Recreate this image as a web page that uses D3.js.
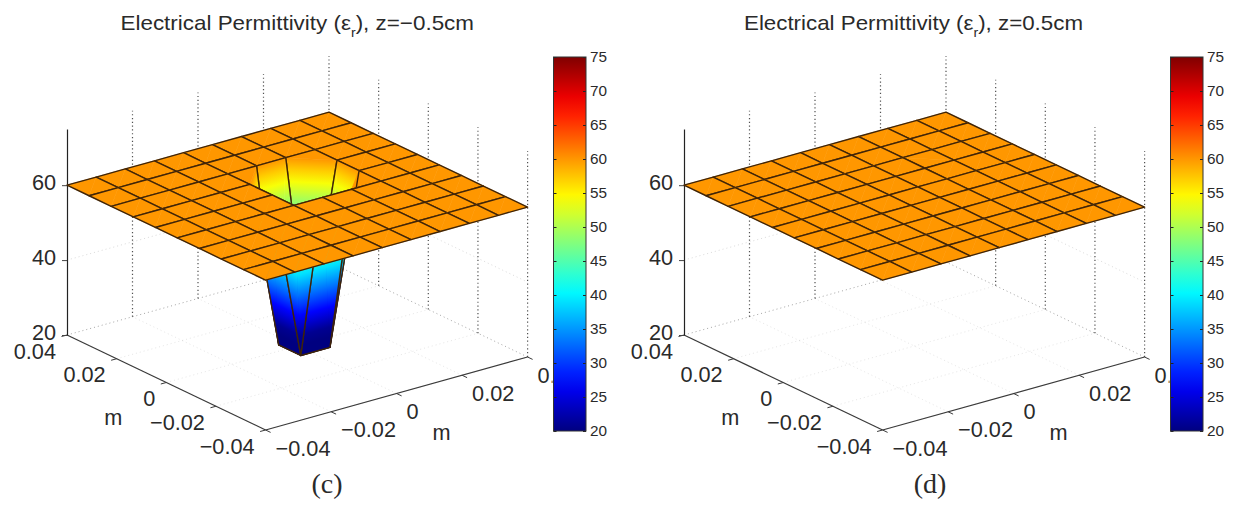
<!DOCTYPE html>
<html><head><meta charset="utf-8">
<style>html,body{margin:0;padding:0;background:#fff}svg{display:block}text{font-family:"Liberation Sans",Arial,sans-serif;fill:#2a2a2a}</style>
<script src="https://cdn.jsdelivr.net/npm/d3@7"></script>
</head><body><svg id="c" width="1233" height="506"></svg>
<script>
// ---- data ----
const gridMetres = [-0.04,-0.0311,-0.0222,-0.0133,-0.0044,0.0044,0.0133,0.0222,0.0311,0.04];
// permittivity at each grid node, rows = y index, columns = x index
const surfaceC = [
 [60,60,60,60,60,60,60,60,60,60],
 [60,60,60,60,60,60,60,60,60,60],
 [60,60,60,60,60,60,60,60,60,60],
 [60,60,60,60,60,60,60,60,60,60],
 [60,60,60,60,60,60,60,60,60,60],
 [60,60,60,60,60,15,15,60,60,60],
 [60,60,60,60,60,15,15,60,60,60],
 [60,60,60,60,60,60,60,60,60,60],
 [60,60,60,60,60,60,60,60,60,60],
 [60,60,60,60,60,60,60,60,60,60]];
const surfaceD = [
 [60,60,60,60,60,60,60,60,60,60],
 [60,60,60,60,60,60,60,60,60,60],
 [60,60,60,60,60,60,60,60,60,60],
 [60,60,60,60,60,60,60,60,60,60],
 [60,60,60,60,60,60,60,60,60,60],
 [60,60,60,60,60,60,60,60,60,60],
 [60,60,60,60,60,60,60,60,60,60],
 [60,60,60,60,60,60,60,60,60,60],
 [60,60,60,60,60,60,60,60,60,60],
 [60,60,60,60,60,60,60,60,60,60]];
const horizTicks = [-0.04,-0.02,0,0.02,0.04];
const horizLabels = ["\u22120.04","\u22120.02","0","0.02","0.04"];
const zTicks = [20,40,60];
const colorTicks = [20,25,30,35,40,45,50,55,60,65,70,75];
const titles = ["z=\u22120.5cm","z=0.5cm"];
const captions = ["(c)","(d)"];
const antiDiagonalCells = [[6,6]]; // [i,j] cells split along the other diagonal

// ---- scales ----
const uScale = d3.scaleLinear().domain([-0.04,0.04]).range([0,1]);
const zPx = d3.scaleLinear().domain([20,75]).range([0,-206]);
const cbY = d3.scaleLinear().domain([20,75]).range([431,57]);
const clamp=v=>Math.max(0,Math.min(1,v));
const tScale = d3.scaleLinear().domain([20,75]).range([0,1]).clamp(true);
function jet(z){const t=tScale(z);
  return d3.rgb(255*clamp(1.5-Math.abs(4*t-3)),255*clamp(1.5-Math.abs(4*t-2)),255*clamp(1.5-Math.abs(4*t-1))).formatHex();}

const svg=d3.select("#c"), defs=svg.append("defs");
let gid=0;
function gradStops(g,z0,z1){const n=Math.max(2,Math.ceil(Math.abs(z1-z0)/3)+1);
  d3.range(n).forEach(k=>{const f=k/(n-1);g.append("stop").attr("offset",f).attr("stop-color",jet(z0+(z1-z0)*f));});}

function panel(ox,Z,titleTail,titleX,titleW,caption,capX){
  const B=[265.6+ox,430],U=[262,-73],V=[-198.6,-95];
  const P=(x,y,z)=>{const u=uScale(x),v=uScale(y);return [B[0]+u*U[0]+v*V[0],B[1]+u*U[1]+v*V[1]+zPx(z)];};
  const g=svg.append("g");
  const xs=gridMetres, line=(a,b)=>({x1:a[0],y1:a[1],x2:b[0],y2:b[1]});
  const seg=(a,b,col,w,dash,op)=>{const l=line(a,b);g.append("line").attr("x1",l.x1).attr("y1",l.y1).attr("x2",l.x2).attr("y2",l.y2)
     .attr("stroke",col).attr("stroke-width",w).attr("stroke-dasharray",dash||null).attr("opacity",op==null?1:op);};
  const lo=-0.04,hi=0.04;
  const FS=21.7;
  // floor grid (faint)
  horizTicks.forEach(t=>{
    seg(P(t,lo,20),P(t,hi,20),"#888",1,"1 3",t===hi?.75:.2);
    seg(P(lo,t,20),P(hi,t,20),"#888",1,"1 3",t===hi?.75:.2);
  });
  // wall grid
  [40,60].forEach(z=>{
    seg(P(lo,hi,z),P(hi,hi,z),"#999",1,"1 3",.35);
    seg(P(hi,hi,z),P(hi,lo,z),"#999",1,"1 3",.35);
  });
  horizTicks.forEach(t=>{
    if(t>lo) seg(P(t,hi,20),P(t,hi,75),"#333",1.2,"1.2 2.6",.85);
    if(t<hi) seg(P(hi,t,20),P(hi,t,75),"#333",1.2,"1.2 2.6",.85);
  });
  // front axes
  seg(P(lo,lo,20),P(hi,lo,20),"#3a3a3a",1.2);
  seg(P(lo,lo,20),P(lo,hi,20),"#3a3a3a",1.2);
  horizTicks.forEach(t=>{
    const a=P(t,lo,20),b=P(lo,t,20);
    seg(a,[a[0]+5,a[1]+2.4],"#3a3a3a",1);
    seg(b,[b[0]-5.5,b[1]+1.5],"#3a3a3a",1);
  });
  // z axis via d3 axis
  const zAxisScale=d3.scaleLinear().domain([20,75]).range([P(lo,hi,20)[1],P(lo,hi,75)[1]]);
  const zg=g.append("g").attr("transform",`translate(${P(lo,hi,20)[0]},0)`)
    .call(d3.axisLeft(zAxisScale).tickValues(zTicks).tickSize(5).tickPadding(6).tickSizeOuter(0));
  zg.selectAll("path").attr("stroke","#222").attr("stroke-width",1.2);
  zg.selectAll("line").attr("stroke","#444");
  zg.selectAll("text").attr("font-size",FS).attr("dy","0.2em").style("font-family",'"Liberation Sans"').attr("fill","#2a2a2a");
  // tick labels
  horizTicks.forEach((t,k)=>{
    const a=P(t,lo,20),b=P(lo,t,20);
    g.append("text").attr("x",a[0]+10).attr("y",a[1]+25.5).attr("font-size",FS).text(horizLabels[k]);
    g.append("text").attr("x",b[0]-11).attr("y",b[1]+23.5).attr("text-anchor","end").attr("font-size",FS).text(horizLabels[k]);
  });
  const mx=P(0,lo,20),my=P(lo,0,20);
  g.append("text").attr("x",mx[0]+45).attr("y",mx[1]+46.5).attr("text-anchor","middle").attr("font-size",FS).text("m");
  g.append("text").attr("x",my[0]-53).attr("y",my[1]+42).attr("text-anchor","middle").attr("font-size",FS).text("m");

  // surface, painter's order: far cells first
  const cells=[];
  for(let j=0;j<9;j++)for(let i=0;i<9;i++)cells.push([i,j]);
  cells.sort((a,b)=>(b[0]+b[1])-(a[0]+a[1]));
  const surf=g.append("g");
  const node=(i,j)=>{const p=P(xs[i],xs[j],Z[j][i]);return {p,z:Z[j][i]};};
  function tri(a,b,c){
    const zs=[a.z,b.z,c.z],zmin=d3.min(zs),zmax=d3.max(zs);
    const pts=[a,b,c].map(n=>n.p.join(",")).join(" ");
    if(zmin===zmax){surf.append("polygon").attr("points",pts).attr("fill",jet(zmin)).attr("stroke",jet(zmin)).attr("stroke-width",.6);return;}
    // screen-space gradient of z over the triangle
    const [x0,y0]=a.p,[x1,y1]=b.p,[x2,y2]=c.p;
    const d=(x1-x0)*(y2-y0)-(x2-x0)*(y1-y0);
    if(Math.abs(d)<1e-6)return;
    const gx=((b.z-a.z)*(y2-y0)-(c.z-a.z)*(y1-y0))/d, gy=((c.z-a.z)*(x1-x0)-(b.z-a.z)*(x2-x0))/d;
    const g2=gx*gx+gy*gy, s=(zmin-a.z)/g2, e=(zmax-a.z)/g2;
    const id="g"+(gid++);
    const lg=defs.append("linearGradient").attr("id",id).attr("gradientUnits","userSpaceOnUse")
      .attr("x1",x0+gx*s).attr("y1",y0+gy*s).attr("x2",x0+gx*e).attr("y2",y0+gy*e);
    gradStops(lg,zmin,zmax);
    surf.append("polygon").attr("points",pts).attr("fill",`url(#${id})`).attr("stroke",`url(#${id})`).attr("stroke-width",.6);
  }
  cells.forEach(([i,j])=>{
    const a=node(i,j),b=node(i+1,j),c=node(i+1,j+1),d=node(i,j+1);
    const anti=antiDiagonalCells.some(q=>q[0]===i&&q[1]===j);
    if(anti){tri(b,c,d);tri(a,b,d);} else {tri(a,c,d);tri(a,b,c);}
    surf.append("polygon").attr("points",[a,b,c,d].map(n=>n.p.join(",")).join(" ")).attr("fill","none")
      .attr("stroke","#3f2408").attr("stroke-width",1.4).attr("stroke-linejoin","round");
  });

  // title
  const t=g.append("text").attr("x",titleX).attr("y",30).attr("font-size",20.6).attr("textLength",titleW).attr("lengthAdjust","spacingAndGlyphs");
  t.append("tspan").text("Electrical Permittivity (\u03b5");
  t.append("tspan").attr("dy",7).attr("font-size",13).text("r");
  t.append("tspan").attr("dy",-7).text("), "+titleTail);
  // caption
  g.append("text").attr("x",capX).attr("y",493).attr("text-anchor","middle").attr("font-size",28)
    .style("font-family",'"Liberation Serif",serif').attr("fill","#111").text(caption);

  // colorbar
  const cx=553.5+ox, cw=32.5;
  const cg=g.append("g");
  const id="cb"+(gid++);
  const lg=defs.append("linearGradient").attr("id",id).attr("x1",0).attr("y1",1).attr("x2",0).attr("y2",0);
  gradStops(lg,20,75);
  cg.append("rect").attr("x",cx-1).attr("y",40).attr("width",cw+2).attr("height",400).attr("fill","#fff");
  cg.append("rect").attr("x",cx).attr("y",cbY(75)).attr("width",cw).attr("height",cbY(20)-cbY(75)).attr("fill",`url(#${id})`);
  const ax=cg.append("g").attr("transform",`translate(${cx+cw},0)`)
    .call(d3.axisRight(cbY).tickValues(colorTicks).tickSize(-3).tickPadding(4).tickSizeOuter(0));
  ax.selectAll("path").attr("stroke","none");
  ax.selectAll("line").attr("stroke","#222");
  ax.selectAll("text").attr("font-size",15.3).style("font-family",'"Liberation Sans"').attr("fill","#333");
  const ax2=cg.append("g").attr("transform",`translate(${cx},0)`)
    .call(d3.axisLeft(cbY).tickValues(colorTicks).tickSize(-3).tickFormat("").tickSizeOuter(0));
  ax2.selectAll("path").attr("stroke","none");
  ax2.selectAll("line").attr("stroke","#222");
  cg.append("rect").attr("x",cx).attr("y",cbY(75)).attr("width",cw).attr("height",cbY(20)-cbY(75)).attr("fill","none").attr("stroke","#333").attr("stroke-width",1);
}
panel(0,surfaceC,titles[0],120.5,353.5,captions[0],327);
panel(617,surfaceD,titles[1],744,339,captions[1],930);
</script></body></html>
